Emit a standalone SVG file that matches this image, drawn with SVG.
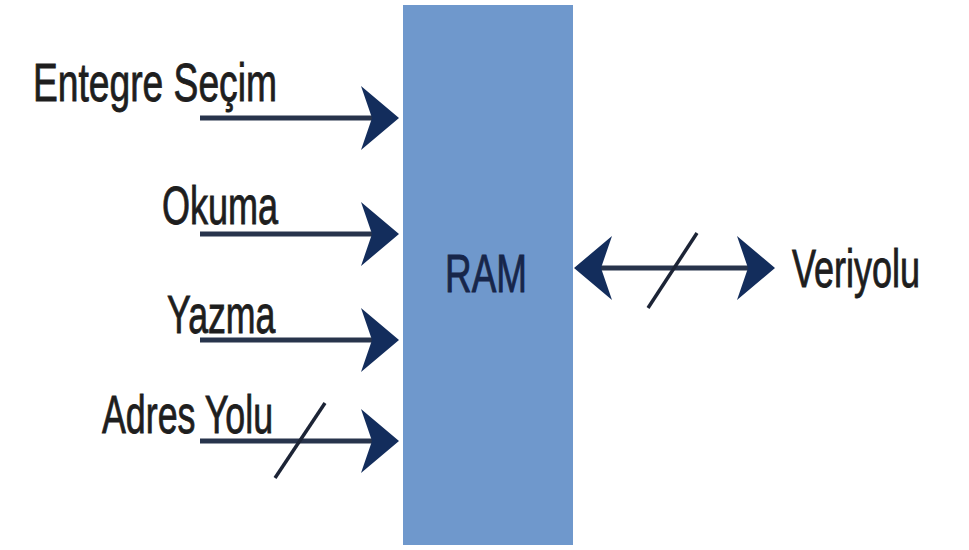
<svg xmlns="http://www.w3.org/2000/svg" width="969" height="550" viewBox="0 0 969 550">
<style>
.lbl{font-family:"Liberation Sans",Arial,sans-serif;font-size:54px;fill:#1e1e1e;stroke:#1e1e1e;stroke-width:0.9}
.ram{fill:#17264a;stroke:#17264a}
.ln{stroke:#28344c;stroke-width:5;fill:none}
.sl{stroke:#1c2436;stroke-width:3.5;fill:none}
.ah{fill:#132d5c}
</style>
<defs>
<path id="ah" class="ah" d="M0,0 L-38,-32 L-27,0 L-38,32 Z"/>
</defs>
<rect width="969" height="550" fill="#ffffff"/>
<g id="ram">
<rect x="403" y="5" width="170" height="540" fill="#6f98cc"/>
<text class="lbl ram" transform="translate(445,292) scale(0.683,1)">RAM</text>
</g>
<g id="entegre-secim">
<text class="lbl" transform="translate(33,101) scale(0.689,1)">Entegre Seçim</text>
</g>
<g id="okuma">
<text class="lbl" transform="translate(162,224) scale(0.667,1)">Okuma</text>
</g>
<g id="yazma">
<text class="lbl" transform="translate(167,333) scale(0.661,1)">Yazma</text>
</g>
<g id="adres-yolu">
<text class="lbl" transform="translate(102,433) scale(0.663,1)">Adres Yolu</text>
</g>
<g id="veriyolu">
<text class="lbl" transform="translate(792,287) scale(0.667,1)">Veriyolu</text>
</g>
<g id="connectors">
<line class="ln" x1="200" y1="118" x2="372" y2="118"/>
<use href="#ah" transform="translate(399,118)"/>
<line class="ln" x1="200" y1="234" x2="372" y2="234"/>
<use href="#ah" transform="translate(399,234)"/>
<line class="ln" x1="200" y1="340" x2="372" y2="340"/>
<use href="#ah" transform="translate(399,340)"/>
<line class="ln" x1="200" y1="441" x2="372" y2="441"/>
<use href="#ah" transform="translate(399,441)"/>
<line class="sl" x1="275" y1="478" x2="325" y2="403"/>
<line class="ln" x1="598" y1="268" x2="750" y2="268"/>
<use href="#ah" transform="translate(574,268) scale(-1,1)"/>
<use href="#ah" transform="translate(775,268)"/>
<line class="sl" x1="648" y1="308" x2="697" y2="233"/>
</g>
</svg>
